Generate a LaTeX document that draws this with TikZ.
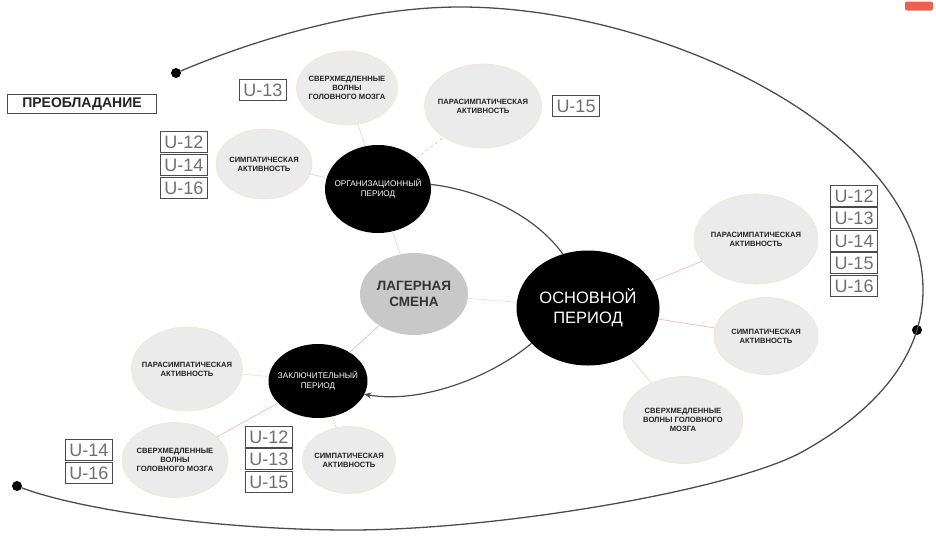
\documentclass[tikz,border=0pt]{standalone}
\usepackage{fontspec}
\setmainfont{Liberation Sans}
\usetikzlibrary{arrows.meta,shapes.geometric}
\definecolor{circfill}{HTML}{EBEBEB}
\definecolor{lagfill}{HTML}{C8C8C8}
\definecolor{txt}{HTML}{222222}
\definecolor{utxt}{HTML}{707070}
\definecolor{boxcol}{HTML}{4A4A4A}
\definecolor{rimcol}{HTML}{F2E4D0}
\definecolor{linkcol}{HTML}{E2D8CE}
\definecolor{pinklink}{HTML}{F2C0C0}
\definecolor{spiralcol}{HTML}{4D4D4D}
\definecolor{tagred}{HTML}{F0604F}
\begin{document}
\begin{tikzpicture}[x=1pt,y=-1pt,
  every node/.style={inner sep=0pt, outer sep=0pt},
  sub/.style={ellipse, fill=circfill, draw=rimcol, line width=0.6pt},
  dark/.style={ellipse, fill=black},
  small/.style={font=\bfseries\fontsize{7.6}{9}\selectfont, align=center, text=txt},
  whitesmall/.style={font=\fontsize{8.2}{10}\selectfont, align=center, text=white},
  ubox/.style={draw=boxcol, line width=1.2pt, fill=white, minimum width=47pt, minimum height=21pt, font=\fontsize{18}{18}\selectfont, text=utxt},
  link/.style={draw=linkcol, line width=0.7pt},
  plink/.style={draw=pinklink, line width=0.8pt},
  dotnode/.style={circle, fill=black, minimum size=10pt},
  arc/.style={draw=spiralcol, line width=1.2pt},
]
\useasboundingbox (0,0) rectangle (936,538);

% spiral
\node[dotnode] (d1) at (176,73) {};
\node[dotnode] (d2) at (917,330) {};
\node[dotnode] (d3) at (17,486) {};
\coordinate (sTop) at (460,7);
\coordinate (sRight) at (923,290);
\coordinate (sMid) at (800,453);
\coordinate (sBot) at (350,530);
\draw[spiralcol, line width=1.3pt]
  (d1) .. controls (266,35) and (370,7) .. (sTop)
       .. controls (660,7) and (923,130) .. (sRight)
       .. controls (923,360) and (870,415) .. (sMid)
       .. controls (730,490) and (500,530) .. (sBot)
       .. controls (220,530) and (80,510) .. (d3);

% tag
\node[fill=tagred, rounded corners=2pt, minimum width=28pt, minimum height=9pt] (tag) at (919,6) {};

% main nodes
\node[draw=boxcol, line width=1.2pt, minimum width=149pt, minimum height=19pt, font=\bfseries\fontsize{14}{14}\selectfont, text=txt] (pre) at (82,104) {ПРЕОБЛАДАНИЕ};

\node[dark, minimum width=106pt, minimum height=88pt, label={[whitesmall]center:ОРГАНИЗАЦИОННЫЙ\\ПЕРИОД}] (org) at (378,189) {};
\node[ellipse, fill=lagfill, minimum width=108pt, minimum height=82pt, label={[font=\bfseries\fontsize{13.5}{16}\selectfont, align=center, text=black!80]center:ЛАГЕРНАЯ\\СМЕНА}] (lag) at (414,294) {};
\node[dark, minimum width=143pt, minimum height=115pt, label={[font=\fontsize{16.5}{20}\selectfont, align=center, text=white]center:ОСНОВНОЙ\\ПЕРИОД}] (osn) at (588,308) {};
\node[dark, minimum width=99pt, minimum height=74pt, label={[whitesmall]center:ЗАКЛЮЧИТЕЛЬНЫЙ\\ПЕРИОД}] (zak) at (318,381) {};

% top group
\node[sub, minimum width=101pt, minimum height=74pt, label={[small]center:СВЕРХМЕДЛЕННЫЕ\\ВОЛНЫ\\ГОЛОВНОГО МОЗГА}] (tsv) at (347,88) {};
\node[sub, minimum width=117pt, minimum height=84pt, label={[small]center:ПАРАСИМПАТИЧЕСКАЯ\\АКТИВНОСТЬ}] (tpa) at (483,106) {};
\node[sub, minimum width=96pt, minimum height=70pt, label={[small]center:СИМПАТИЧЕСКАЯ\\АКТИВНОСТЬ}] (tsy) at (264,164) {};
\node[ubox] (u13a) at (263,90) {U-13};
\node[ubox] (u15a) at (576,106) {U-15};
\node[ubox] (u12a) at (184,142) {U-12};
\node[ubox] (u14a) at (184,165) {U-14};
\node[ubox] (u16a) at (184,188) {U-16};

% right group
\node[sub, minimum width=124pt, minimum height=90pt, label={[small]center:ПАРАСИМПАТИЧЕСКАЯ\\АКТИВНОСТЬ}] (rpa) at (756,239) {};
\node[sub, minimum width=104pt, minimum height=77pt, label={[small]center:СИМПАТИЧЕСКАЯ\\АКТИВНОСТЬ}] (rsy) at (766,336) {};
\node[sub, minimum width=120pt, minimum height=87pt, label={[small]center:СВЕРХМЕДЛЕННЫЕ\\ВОЛНЫ ГОЛОВНОГО\\МОЗГА}] (rsv) at (683,420) {};
\node[ubox] (u12b) at (854,196) {U-12};
\node[ubox] (u13b) at (854,218) {U-13};
\node[ubox] (u14b) at (854,241) {U-14};
\node[ubox] (u15b) at (854,263) {U-15};
\node[ubox] (u16b) at (854,286) {U-16};

% bottom group
\node[sub, minimum width=111pt, minimum height=84pt, label={[small]center:ПАРАСИМПАТИЧЕСКАЯ\\АКТИВНОСТЬ}] (bpa) at (187,369) {};
\node[sub, minimum width=106pt, minimum height=75pt, label={[small]center:СВЕРХМЕДЛЕННЫЕ\\ВОЛНЫ\\ГОЛОВНОГО МОЗГА}] (bsv) at (175,460) {};
\node[sub, minimum width=93pt, minimum height=67pt, label={[small]center:СИМПАТИЧЕСКАЯ\\АКТИВНОСТЬ}] (bsy) at (349,460) {};
\node[ubox] (u12c) at (269,437) {U-12};
\node[ubox] (u13c) at (269,459) {U-13};
\node[ubox] (u15c) at (269,482) {U-15};
\node[ubox] (u14c) at (89,450) {U-14};
\node[ubox] (u16c) at (89,473) {U-16};

% links
\draw[link] (org) -- (lag);
\draw[plink, densely dotted] (lag) -- (osn);
\draw[plink] (lag) -- (zak);
\draw[link] (org) -- (tsv);
\draw[plink, dashed] (org) -- (tpa);
\draw[link] (org) -- (tsy);
\draw[plink] (osn) -- (rpa);
\draw[plink] (osn) -- (rsy);
\draw[link] (osn) -- (rsv);
\draw[plink, densely dotted] (zak) -- (bpa);
\draw[plink] (zak) -- (bsv);
\draw[link] (zak) -- (bsy);

% arrows
\draw[arc] (org.5) .. controls (480,190) and (535,215) .. (osn.115);
\draw[arc, -{Stealth[length=7pt,width=6pt]}] (osn.212) .. controls (490,378) and (420,404) .. (zak.344);
\end{tikzpicture}
\end{document}
